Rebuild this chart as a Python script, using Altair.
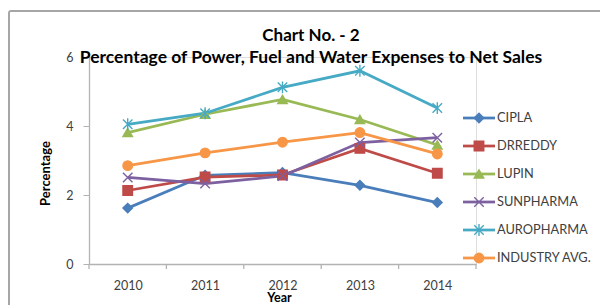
import altair as alt
import pandas as pd

years = [2010, 2011, 2012, 2013, 2014]
series = ["CIPLA", "DRREDDY", "LUPIN", "SUNPHARMA", "AUROPHARMA", "INDUSTRY AVG."]
cipla = [1.62, 2.57, 2.65, 2.28, 1.78]
drreddy = [2.13, 2.52, 2.58, 3.35, 2.63]
lupin = [3.81, 4.34, 4.77, 4.19, 3.45]
sunpharma = [2.51, 2.33, 2.55, 3.52, 3.66]
auropharma = [4.05, 4.37, 5.12, 5.60, 4.52]
industry = [2.85, 3.22, 3.53, 3.81, 3.19]
colors = ["#4A7EBB", "#BE4B48", "#98B954", "#7D60A0", "#46AAC5", "#F79646"]
shapes = ["diamond", "square", "triangle-up",
          "M-1,-1L1,1M-1,1L1,-1",
          "M-1,-1L1,1M-1,1L1,-1M0,-1.25L0,1.25",
          "circle"]
y_ticks = [0, 2, 4, 6]
x_tick_marks = [2009.5, 2010.5, 2011.5, 2012.5, 2013.5, 2014.5]
title_lines = ["Chart No. - 2",
               "Percentage of Power, Fuel and Water Expenses to Net Sales"]

values = [cipla, drreddy, lupin, sunpharma, auropharma, industry]
rows = []
for s, vals in zip(series, values):
    for y, v in zip(years, vals):
        rows.append({"Year": y, "series": s, "value": v})
df = pd.DataFrame(rows)
leg_df = pd.DataFrame({"series": series})
tick_df = pd.DataFrame({"t": x_tick_marks})
one = pd.DataFrame({"a": [0]})

W, H = 387, 207
FONT = "Lato"

color_scale = alt.Scale(domain=series, range=colors)
shape_scale = alt.Scale(domain=series, range=shapes)
xscale = alt.Scale(domain=[2009.5, 2014.5], nice=False, zero=False)
yscale = alt.Scale(domain=[0, 6], nice=False)

base = alt.Chart(df)

lines = base.mark_line(strokeWidth=2.75).encode(
    x=alt.X("Year:Q", scale=xscale,
            axis=alt.Axis(values=years, format="d", ticks=False, tickSize=0,
                          labelPadding=15, labelFontSize=12.5, labelColor="#404040",
                          labelFont=FONT, domainColor="#b3b3b3", domainWidth=1.3,
                          grid=False, title="Year", titleFont=FONT, titleFontSize=12.5,
                          titleFontWeight="bold", titleColor="#000000",
                          titleX=190, titleY=33, titleBaseline="middle")),
    y=alt.Y("value:Q", scale=yscale,
            axis=alt.Axis(values=y_ticks, tickSize=6, tickColor="#b3b3b3",
                          labelPadding=10, labelFontSize=12.5, labelColor="#404040",
                          labelFont=FONT, domainColor="#b3b3b3", domainWidth=1.3,
                          grid=False, title="Percentage", titleFont=FONT,
                          titleFontSize=13, titleFontWeight="bold", titleColor="#000000",
                          titleX=-44, titleY=116, titleAngle=-90,
                          titleAlign="center", titleBaseline="middle")),
    color=alt.Color("series:N", scale=color_scale, legend=None),
    detail="series:N",
)

points = base.mark_point(filled=True, size=90, strokeWidth=1.4, opacity=1).encode(
    x=alt.X("Year:Q", scale=xscale),
    y=alt.Y("value:Q", scale=yscale),
    color=alt.Color("series:N", scale=color_scale, legend=None),
    stroke=alt.Stroke("series:N", scale=color_scale, legend=None),
    shape=alt.Shape("series:N", scale=shape_scale, legend=None),
)

ticks = alt.Chart(tick_df).mark_rule(color="#b3b3b3", strokeWidth=1.3).encode(
    x=alt.X("t:Q", scale=xscale),
    y=alt.value(H),
    y2=alt.value(H + 5),
)

leg_y = alt.Y("series:N", sort=series, axis=None,
              scale=alt.Scale(domain=series, range=[47, 215]))
leg_base = alt.Chart(leg_df)
leg_rule = leg_base.mark_rule(strokeWidth=2.75).encode(
    y=leg_y, x=alt.value(374), x2=alt.value(406),
    color=alt.Color("series:N", scale=color_scale, legend=None),
)
leg_pts = leg_base.mark_point(filled=True, size=90, strokeWidth=1.4, opacity=1).encode(
    y=leg_y, x=alt.value(390),
    color=alt.Color("series:N", scale=color_scale, legend=None),
    stroke=alt.Stroke("series:N", scale=color_scale, legend=None),
    shape=alt.Shape("series:N", scale=shape_scale, legend=None),
)
leg_txt = leg_base.mark_text(align="left", baseline="middle", font=FONT,
                             fontSize=12.8, color="#404040").encode(
    y=leg_y, x=alt.value(408), text="series:N",
)

frame = alt.Chart(one).mark_rect(
    fill="white", fillOpacity=0, stroke="#a6a6a6", strokeWidth=2, cornerRadius=2
).encode(
    x=alt.datum(2008.466), x2=alt.datum(2016.2),
    y=alt.datum(7.333), y2=alt.datum(-1.6),
)

t1 = alt.Chart(one).mark_text(text=title_lines[0], font=FONT, fontSize=17,
                              fontWeight="bold", color="#000000",
                              align="center", baseline="middle").encode(
    x=alt.value(222), y=alt.value(-21))
t2 = alt.Chart(one).mark_text(text=title_lines[1], font=FONT, fontSize=17.5,
                              fontWeight="bold", color="#000000",
                              align="center", baseline="middle").encode(
    x=alt.value(222), y=alt.value(1))

main = alt.layer(frame, ticks, lines, points, t1, t2)
legend = alt.layer(leg_rule, leg_pts, leg_txt)

chart = alt.layer(main, legend).resolve_scale(y="independent").properties(
    width=W, height=H,
    autosize=alt.AutoSizeParams(type="none"),
    padding={"left": 81, "top": 49, "right": 124, "bottom": 41},
).configure_view(stroke=None).configure(background="white")

chart.save("out.html", embed_options={"renderer": "svg", "actions": False})
